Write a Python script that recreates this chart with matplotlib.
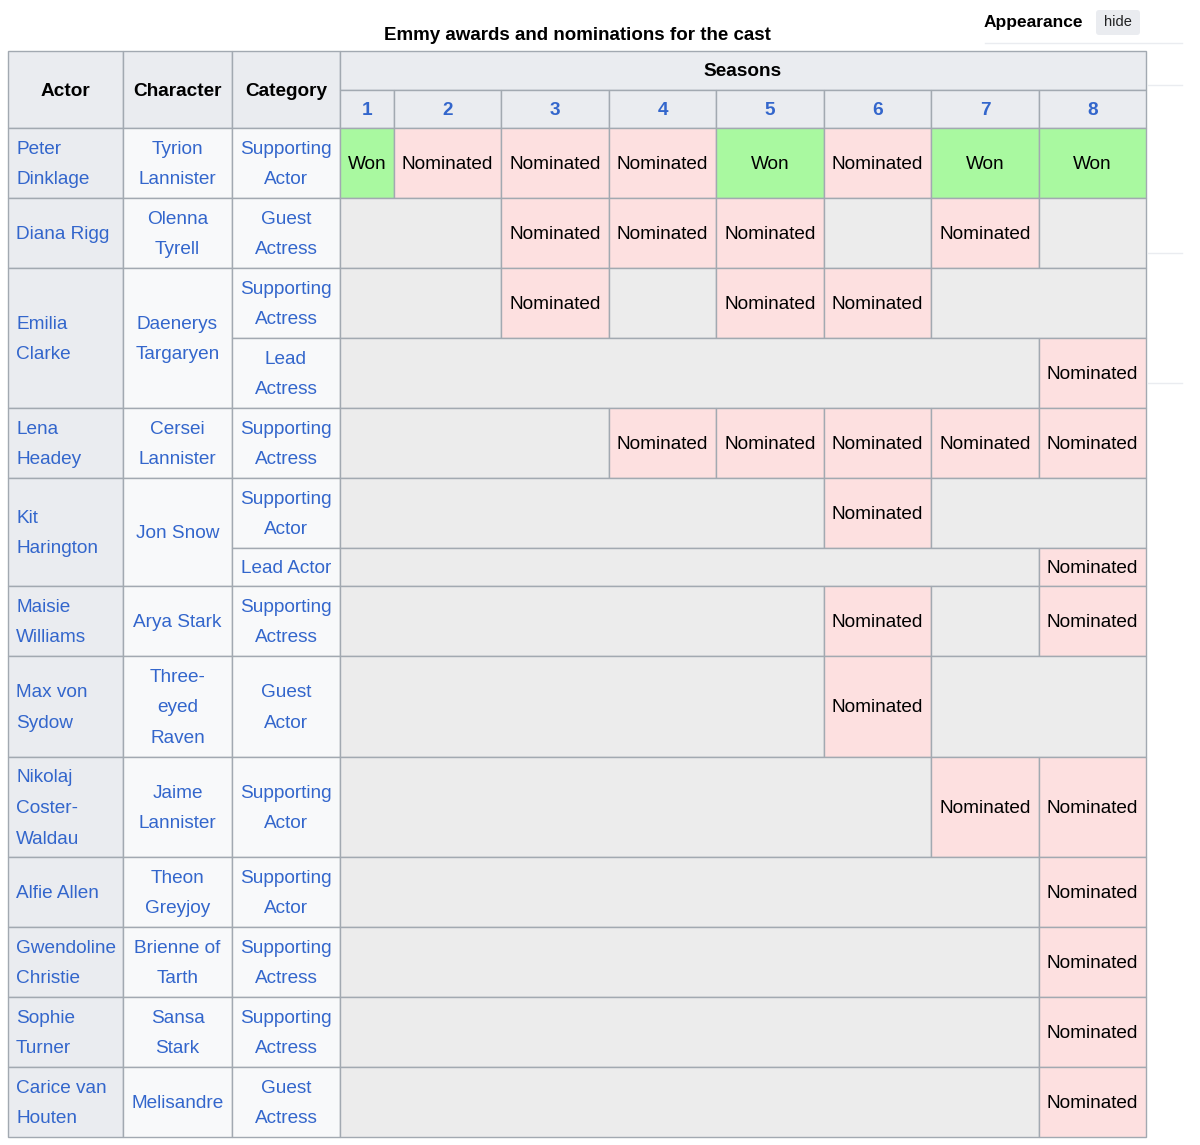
import matplotlib
matplotlib.use("Agg")
import matplotlib.pyplot as plt
from matplotlib.patches import Rectangle, FancyBboxPatch

title = "Emmy awards and nominations for the cast"
seasons = ["1", "2", "3", "4", "5", "6", "7", "8"]
actors = ["Peter\nDinklage", "Diana Rigg", "Emilia\nClarke", "Lena\nHeadey", "Kit\nHarington",
          "Maisie\nWilliams", "Max von\nSydow", "Nikolaj\nCoster-\nWaldau", "Alfie Allen",
          "Gwendoline\nChristie", "Sophie\nTurner", "Carice van\nHouten"]
characters = ["Tyrion\nLannister", "Olenna\nTyrell", "Daenerys\nTargaryen", "Cersei\nLannister",
              "Jon Snow", "Arya Stark", "Three-\neyed\nRaven", "Jaime\nLannister", "Theon\nGreyjoy",
              "Brienne of\nTarth", "Sansa\nStark", "Melisandre"]
actor_rowspan = [1, 1, 2, 1, 2, 1, 1, 1, 1, 1, 1, 1]
categories = ["Supporting\nActor", "Guest\nActress", "Supporting\nActress", "Lead\nActress",
              "Supporting\nActress", "Supporting\nActor", "Lead Actor", "Supporting\nActress",
              "Guest\nActor", "Supporting\nActor", "Supporting\nActor", "Supporting\nActress",
              "Supporting\nActress", "Guest\nActress"]
results = ["WNNNWNWW", "__NNN_N_", "__N_NN__", "_______N", "___NNNNN", "_____N__",
           "_______N", "_____N_N", "_____N__", "______NN", "_______N", "_______N",
           "_______N", "_______N"]

# layout
col_x = [8, 123, 232, 340, 394, 501, 609, 716, 824, 931, 1039, 1146]
row_h = [70, 70, 70, 70, 70, 70, 38, 70, 101, 100, 70, 70, 70, 70]
top = 128
row_y = [top]
for h in row_h:
    row_y.append(row_y[-1] + h)

LINK = "#3366cc"
BORDER = "#a2a9b1"
HEAD = "#eaecf0"
CELLBG = "#f8f9fa"
EMPTY = "#ececec"
WON = "#a9f9a0"
NOM = "#fde0e0"
FONT = "Liberation Sans"
FS = 13.7

fig = plt.figure(figsize=(12, 11.45), dpi=100)
ax = fig.add_axes([0, 0, 1, 1])
ax.set_xlim(0, 1200)
ax.set_ylim(1145, 0)
ax.axis("off")

def cell(x0, y0, x1, y1, fc, text="", color="black", weight="normal", align="center"):
    ax.add_patch(Rectangle((x0, y0), x1 - x0, y1 - y0, facecolor=fc, edgecolor=BORDER, lw=1))
    if not text:
        return
    lines = text.split("\n")
    cy = (y0 + y1) / 2 + 1.5
    for i, ln in enumerate(lines):
        yy = cy + (i - (len(lines) - 1) / 2) * 30.5
        if align == "left":
            ax.text(x0 + 8, yy, ln, ha="left", va="center", fontsize=FS, color=color,
                    family=FONT, weight=weight)
        else:
            ax.text((x0 + x1) / 2, yy, ln, ha="center", va="center", fontsize=FS, color=color,
                    family=FONT, weight=weight)

# title and Appearance
ax.text(577, 35, title, ha="center", va="center", fontsize=13.5, weight="bold", family=FONT)
ax.text(1033, 22, "Appearance", ha="center", va="center", fontsize=12.5, weight="bold", family=FONT)
ax.add_patch(FancyBboxPatch((1096, 10), 44, 25, boxstyle="round,pad=0,rounding_size=3",
                            facecolor="#eaecf0", edgecolor="none"))
ax.text(1118, 22, "hide", ha="center", va="center", fontsize=10.5, family=FONT, color="#202122")
ax.plot([985, 1182], [43, 43], color="#eaecf0", lw=1)
for yy in [85, 253, 383]:
    ax.plot([1148, 1182], [yy, yy], color="#eaecf0", lw=1)

# headers
cell(col_x[0], 51, col_x[1], 128, HEAD, "Actor", weight="bold")
cell(col_x[1], 51, col_x[2], 128, HEAD, "Character", weight="bold")
cell(col_x[2], 51, col_x[3], 128, HEAD, "Category", weight="bold")
cell(col_x[3], 51, col_x[-1], 90, HEAD, "Seasons", weight="bold")
for i, s in enumerate(seasons):
    cell(col_x[3 + i], 90, col_x[4 + i], 128, HEAD, s, color=LINK, weight="bold")

# actor / character
r = 0
for a, c, span in zip(actors, characters, actor_rowspan):
    y0, y1 = row_y[r], row_y[r + span]
    cell(col_x[0], y0, col_x[1], y1, HEAD, a, color=LINK, align="left")
    cell(col_x[1], y0, col_x[2], y1, CELLBG, c, color=LINK)
    r += span

# categories and results
for r, (cat, res) in enumerate(zip(categories, results)):
    y0, y1 = row_y[r], row_y[r + 1]
    cell(col_x[2], y0, col_x[3], y1, CELLBG, cat, color=LINK)
    i = 0
    while i < len(res):
        if res[i] == "_":
            j = i
            while j < len(res) and res[j] == "_":
                j += 1
            cell(col_x[3 + i], y0, col_x[3 + j], y1, EMPTY)
            i = j
        else:
            won = res[i] == "W"
            cell(col_x[3 + i], y0, col_x[4 + i], y1, WON if won else NOM,
                 "Won" if won else "Nominated")
            i += 1

fig.savefig("out.png", dpi=100)
